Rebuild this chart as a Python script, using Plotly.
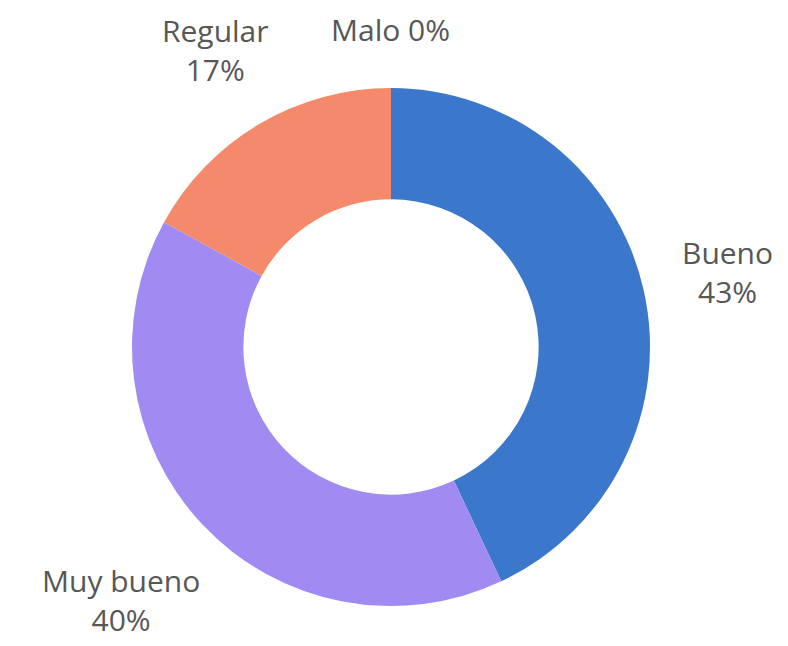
import math
import plotly.graph_objects as go

labels = ["Bueno", "Muy bueno", "Regular", "Malo"]
values = [43, 40, 17, 0]
colors = ["#3b78cc", "#a18bf2", "#f5896b", "#e05a5a"]

W, H = 788, 646
OFF = 8  # page body margin
cx, cy, R = 391 - OFF, 347 - OFF, 259
label_r = [345, 370, 345, 317]  # label distance from centre, px
multiline = [True, True, True, False]

fig = go.Figure(go.Pie(
    labels=labels, values=values, hole=0.57, sort=False,
    direction="clockwise", rotation=0,
    marker=dict(colors=colors, line=dict(width=0)),
    textinfo="none", hoverinfo="label+percent", showlegend=False,
    domain=dict(x=[(cx - R) / W, (cx + R) / W],
                y=[(H - cy - R) / H, (H - cy + R) / H]),
))

total = sum(values)
cum = 0
for lab, v, r, ml in zip(labels, values, label_r, multiline):
    mid = (cum + v / 2) / total * 2 * math.pi
    cum += v
    px = cx + r * math.sin(mid)
    py = cy - r * math.cos(mid)
    pct = round(v / total * 100)
    txt = f"{lab}<br>{pct}%" if ml else f"{lab} {pct}%"
    fig.add_annotation(x=px / W, y=1 - py / H, xref="paper", yref="paper",
                       text=txt, showarrow=False, xanchor="center", yanchor="middle",
                       borderpad=0,
                       font=dict(family="Open Sans", size=30, color="#575757"))

fig.update_layout(width=W, height=H, margin=dict(l=0, r=0, t=0, b=0),
                  paper_bgcolor="white", plot_bgcolor="white")
fig.write_html("out.html")
